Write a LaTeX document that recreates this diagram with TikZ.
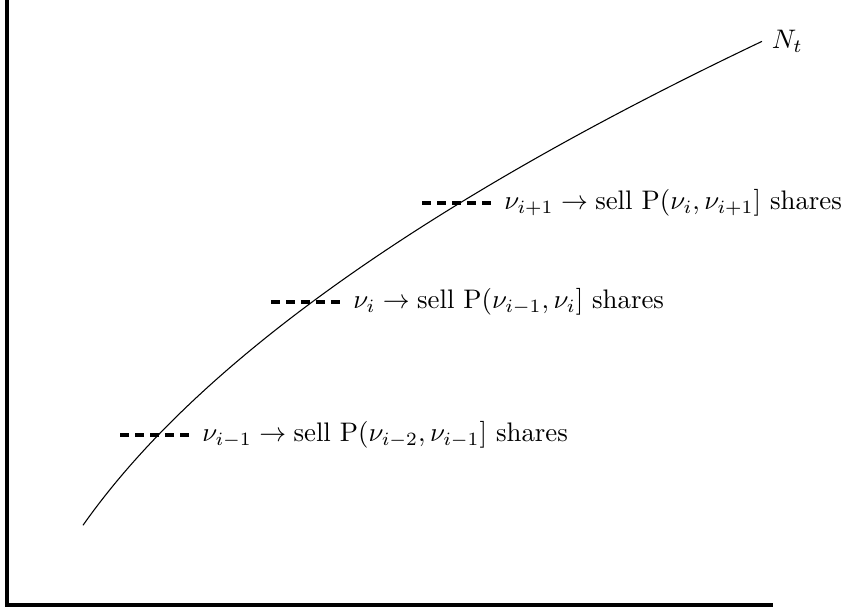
\documentclass[tikz,border=0pt]{standalone}
\usepackage{amsmath}
\begin{document}
\begin{tikzpicture}[x=0.373pt,y=-0.373pt,
  axisline/.style={line width=1.5pt},
  levelmark/.style={line width=1.5pt, dash pattern=on 3.5pt off 2.1pt},
  lbl/.style={anchor=west, inner sep=4pt}]
\useasboundingbox (0,0) rectangle (844,612);
% axes
\coordinate (top) at (7,0);
\coordinate (orig) at (7,605);
\coordinate (xend) at (773,605);
\draw[axisline] (top) -- (orig) -- (xend);
% curve
\draw plot[domain=83:762, samples=120] (\x, {768.6-26.3*sqrt(\x+2.6)});
\coordinate (cend) at (762,41);
\node[anchor=west, inner sep=3.5pt] (nt) at (cend) {$N_t$};
% levels
\coordinate (a1) at (120,435); \coordinate (b1) at (191,435);
\coordinate (a2) at (271,302); \coordinate (b2) at (342,302);
\coordinate (a3) at (422,203); \coordinate (b3) at (493,203);
\draw[levelmark] (a1) -- (b1);
\draw[levelmark] (a2) -- (b2);
\draw[levelmark] (a3) -- (b3);
\node[lbl] (l1) at (b1) {$\nu_{i-1} \rightarrow \text{sell P}(\nu_{i-2},\nu_{i-1}]\text{ shares}$};
\node[lbl] (l2) at (b2) {$\nu_{i} \rightarrow \text{sell P}(\nu_{i-1},\nu_{i}]\text{ shares}$};
\node[lbl] (l3) at (b3) {$\nu_{i+1} \rightarrow \text{sell P}(\nu_{i},\nu_{i+1}]\text{ shares}$};
\end{tikzpicture}
\end{document}
